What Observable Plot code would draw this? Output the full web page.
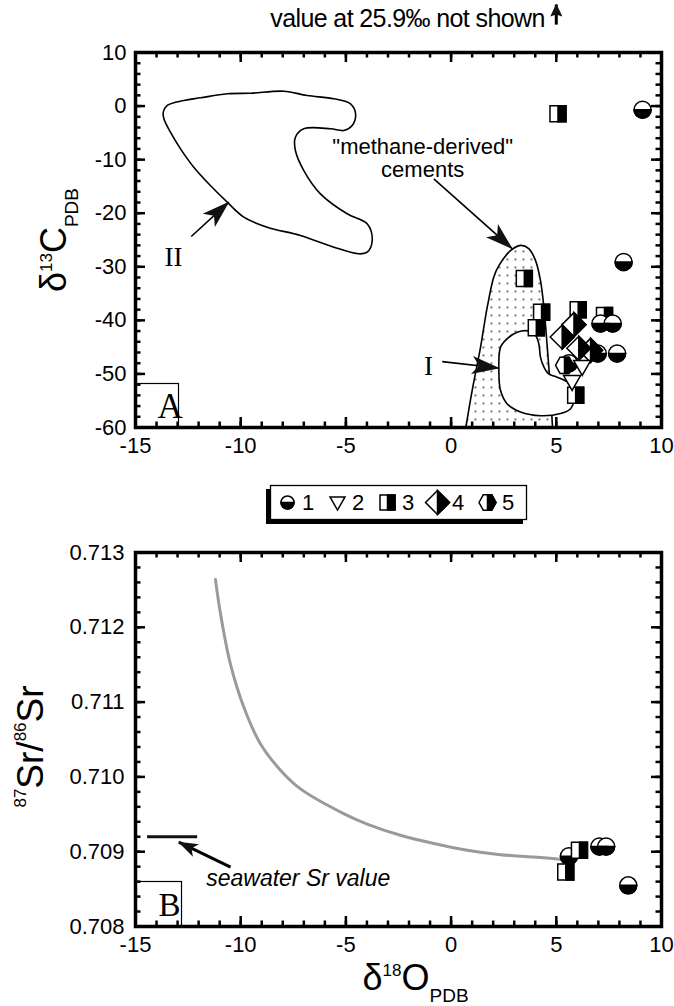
<!DOCTYPE html>
<html>
<head>
<meta charset="utf-8">
<script src="https://cdn.jsdelivr.net/npm/d3@7"></script>
<script src="https://cdn.jsdelivr.net/npm/@observablehq/plot@0.6"></script>
<style>
  html, body { margin: 0; padding: 0; background: #fff; }
  #wrap { width: 674px; height: 1006px; overflow: hidden; background: #fff; }
  #wrap svg { display: block; }
</style>
</head>
<body>
<svg width="0" height="0" style="position:absolute">
  <defs>
    <pattern id="dots" width="8" height="8" patternUnits="userSpaceOnUse">
      <rect x="2" y="2" width="1.8" height="1.8" fill="#555"/>
    </pattern>
    <marker id="ahBig" viewBox="0 0 28 20" refX="27" refY="10" markerUnits="userSpaceOnUse" markerWidth="28" markerHeight="20" orient="auto">
      <path d="M0,1L28,10L0,19L7,10Z" fill="#111"/>
    </marker>
    <marker id="ahMed" viewBox="0 0 20 14" refX="19" refY="7" markerUnits="userSpaceOnUse" markerWidth="20" markerHeight="14" orient="auto">
      <path d="M0,0L20,7L0,14L5,7Z" fill="#111"/>
    </marker>
    <marker id="ahSmall" viewBox="0 0 13 12" refX="12" refY="6" markerUnits="userSpaceOnUse" markerWidth="13" markerHeight="12" orient="auto">
      <path d="M0,0L13,6L0,12L2,6Z" fill="#111"/>
    </marker>
  </defs>
</svg>
<div id="wrap"></div>
<script>
// ---------- tick values ----------
const xMajor = [-15, -10, -5, 0, 5, 10];
const xMinor = d3.range(-15, 10.001, 1);
const yMajorA = [-60, -50, -40, -30, -20, -10, 0, 10];
const yMinorA = d3.range(-60, 10.001, 2);
const yMajorB = [0.708, 0.709, 0.710, 0.711, 0.712, 0.713];
const yMinorB = d3.range(0, 26).map(i => 0.708 + i * 0.0002);

// ---------- panel A data (d18O, d13C) ----------
const a1 = [[9.1, -0.7], [8.2, -29.1], [7.1, -40.6], [7.68, -40.6], [6.97, -46.2], [7.89, -46.2], [5.6, -48.0]];
const a2 = [[6.23, -48.7], [5.75, -51.5]];
const a3 = [[5.08, -1.45], [3.48, -32.2], [4.30, -38.5], [4.05, -41.4], [6.04, -38.0], [7.29, -39.1], [5.92, -54.0]];
const a4 = [[5.28, -43.1], [5.84, -40.8], [6.07, -45.2], [6.63, -45.6]];
const a5 = [[5.39, -48.4]];

// field outlines
const regionII = [[-13.68,-1.14],[-13.49,0.11],[-12.70,1.04],[-11.91,1.54],[-10.64,2.29],[-9.53,2.40],[-7.95,2.78],[-6.84,1.97],[-5.57,1.36],[-4.78,0.42],[-4.54,-1.44],[-4.70,-3.63],[-5.10,-4.56],[-5.73,-4.24],[-7.0,-4.24],[-7.40,-5.81],[-7.40,-8.29],[-7.0,-12.03],[-6.21,-16.38],[-4.94,-20.11],[-3.99,-21.98],[-3.75,-25.09],[-3.99,-27.28],[-4.39,-27.58],[-5.57,-26.34],[-7.16,-24.16],[-8.74,-22.61],[-9.85,-20.74],[-10.64,-17.94],[-11.44,-14.83],[-12.23,-11.41],[-12.86,-7.98],[-13.34,-4.88],[-13.65,-2.38]];
const methaneField = [[0.70,-60],[1.0,-53.1],[1.40,-45.0],[1.72,-37.5],[2.03,-31.9],[2.27,-29.8],[2.82,-27.0],[3.30,-26.0],[3.69,-26.6],[4.01,-28.8],[4.25,-32.6],[4.44,-38.8],[4.57,-45.0],[4.69,-51.2],[4.82,-60]];
const regionI = [[2.35,-45.0],[2.27,-49.4],[2.35,-53.1],[2.67,-55.6],[3.30,-57.1],[4.25,-57.8],[5.20,-57.4],[5.68,-56.5],[5.83,-55.0],[5.76,-53.1],[5.52,-51.5],[5.04,-50.6],[4.64,-50.0],[4.41,-48.7],[4.25,-46.9],[4.17,-44.4],[4.01,-42.8],[3.69,-42.0],[3.14,-42.2],[2.67,-43.4]];

// annotations panel A
const arrowsA = [
  {x1: -12.35, y1: -24.35, x2: -10.57, y2: -17.94},
  {x1: -0.82, y1: -13.6, x2: 2.90, y2: -26.6},
  {x1: -0.42, y1: -47.7, x2: 2.27, y2: -48.9}
];
const upArrow = [{x: 5, y1: 15.2, y2: 18.96}];
const labelsA = [
  {text: "II", x: -13.19, y: -28.17},
  {text: "I", x: -1.07, y: -48.5}
];
const methaneLabel = [{text: "\"methane-derived\"\ncements", x: -1.35, y: -13.28}];
const titleText = ["value at 25.9‰ not shown"];

// ---------- panel B data (d18O, 87Sr/86Sr) ----------
const b1 = [[5.6, 0.70894], [7.05, 0.70907], [7.37, 0.70907], [8.42, 0.70855]];
const b3 = [[6.1, 0.70902], [5.45, 0.70873]];
const mixingCurve = [[-11.2,0.71264],[-10.96,0.71218],[-10.49,0.71151],[-9.85,0.71093],[-9.06,0.71044],[-8.11,0.71009],[-7.16,0.70984],[-5.11,0.70951],[-3.99,0.70937],[-2.41,0.70922],[-0.82,0.70911],[0.77,0.70902],[2.35,0.70896],[3.93,0.70893],[5.2,0.70890]];
const seawater = [{x1: -14.45, x2: -12.07, y: 0.7092}];
const seawaterArrow = [{x1: -10.48, y1: 0.708793, x2: -12.94, y2: 0.709127}];
const seawaterLabel = [{text: "seawater Sr value", x: -11.64, y: 0.708535}];

// ---------- legend ----------
const legendLabels = ["1", "2", "3", "4", "5"];

// ---------- symbols ----------
const R = s => Math.sqrt(s / Math.PI);
const sym = {
  circleFull: {draw(c, s) { const r = R(s); c.moveTo(r, 0); c.arc(0, 0, r, 0, 2 * Math.PI); c.closePath(); }},
  circleHalf: {draw(c, s) { const r = R(s); c.moveTo(r, 0); c.arc(0, 0, r, 0, Math.PI); c.closePath(); }},
  tri: {draw(c, s) { const r = R(s); c.moveTo(-r, -0.75 * r); c.lineTo(r, -0.75 * r); c.lineTo(0, r); c.closePath(); }},
  squareFull: {draw(c, s) { const r = R(s); c.moveTo(-r, -r); c.lineTo(r, -r); c.lineTo(r, r); c.lineTo(-r, r); c.closePath(); }},
  squareHalf: {draw(c, s) { const r = R(s); c.moveTo(0, -r); c.lineTo(r, -r); c.lineTo(r, r); c.lineTo(0, r); c.closePath(); }},
  diamondFull: {draw(c, s) { const r = R(s); c.moveTo(-r, 0); c.lineTo(0, -r); c.lineTo(r, 0); c.lineTo(0, r); c.closePath(); }},
  diamondHalf: {draw(c, s) { const r = R(s); c.moveTo(0, -r); c.lineTo(r, 0); c.lineTo(0, r); c.closePath(); }},
  hexFull: {draw(c, s) { const r = R(s), h = r * 0.9; c.moveTo(-r, 0); c.lineTo(-r / 2, -h); c.lineTo(r / 2, -h); c.lineTo(r, 0); c.lineTo(r / 2, h); c.lineTo(-r / 2, h); c.closePath(); }},
  hexHalf: {draw(c, s) { const r = R(s), h = r * 0.9; c.moveTo(0, -h); c.lineTo(r / 2, -h); c.lineTo(r, 0); c.lineTo(r / 2, h); c.lineTo(0, h); c.closePath(); }}
};

const SW = 1.5;
function halfMarks(data, full, half, r) {
  const base = {x: d => d[0], y: d => d[1], r, stroke: "black", strokeWidth: SW};
  const ms = [Plot.dot(data, {...base, symbol: full, fill: "white"})];
  if (half) ms.push(Plot.dot(data, {...base, symbol: half, fill: "black"}));
  return ms;
}
function legendMarks(label, full, half, r) {
  const base = {x: d => d, frameAnchor: "middle", r, stroke: "black", strokeWidth: SW};
  const ms = [Plot.dot([label], {...base, symbol: full, fill: "white"})];
  if (half) ms.push(Plot.dot([label], {...base, symbol: half, fill: "black"}));
  return ms;
}

const FONT = "'Liberation Sans', Arial, Helvetica, sans-serif";
const SERIF = "'Liberation Serif', 'Times New Roman', serif";

function frameTicks(xMaj, xMin, yMaj, yMin, innerW, innerH) {
  const maj = 10, min = 5.5, sw = 2.5;
  return [
    Plot.tickX(xMin, {x: d => d, insetTop: innerH - min, strokeWidth: sw}),
    Plot.tickX(xMin, {x: d => d, insetBottom: innerH - min, strokeWidth: sw}),
    Plot.tickX(xMaj, {x: d => d, insetTop: innerH - maj, strokeWidth: sw}),
    Plot.tickX(xMaj, {x: d => d, insetBottom: innerH - maj, strokeWidth: sw}),
    Plot.tickY(yMin, {y: d => d, insetRight: innerW - min, strokeWidth: sw}),
    Plot.tickY(yMin, {y: d => d, insetLeft: innerW - min, strokeWidth: sw}),
    Plot.tickY(yMaj, {y: d => d, insetRight: innerW - maj, strokeWidth: sw}),
    Plot.tickY(yMaj, {y: d => d, insetLeft: innerW - maj, strokeWidth: sw}),
    Plot.frame({stroke: "black", strokeWidth: 3.5})
  ];
}

function arrowize(svg) {
  const spec = [["#000001", "ahBig"], ["#000002", "ahMed"], ["#000003", "ahSmall"]];
  for (const [c, id] of spec) {
    svg.querySelectorAll(`g[stroke="${c}"] path, g[stroke="${c}"] line`).forEach(p => p.setAttribute("marker-end", `url(#${id})`));
  }
}
function findText(svg, key) {
  return [...svg.querySelectorAll("text")].find(n => n.textContent === key);
}
function rich(svg, key, parts) {
  const t = findText(svg, key);
  if (!t) return;
  const sel = d3.select(t);
  sel.text(null);
  let cur = 0;
  parts.forEach(p => {
    const off = p.off || 0;
    sel.append("tspan").attr("font-size", p.size).attr("dy", off - cur).text(p.t);
    cur = off;
  });
}
function stretch(svg, key, len) {
  const t = findText(svg, key);
  if (t) { t.setAttribute("textLength", len); t.setAttribute("lengthAdjust", "spacing"); }
}

const wrap = document.getElementById("wrap");
const W = 674;

// ---------- Panel A ----------
const A = {h: 470, ml: 135, mr: 13, mt: 52, mb: 43};
const innerWA = W - A.ml - A.mr, innerHA = A.h - A.mt - A.mb;
const fmtX = d => String(d);
const plotA = Plot.plot({
  width: W, height: A.h, marginLeft: A.ml, marginRight: A.mr, marginTop: A.mt, marginBottom: A.mb,
  x: {domain: [-15, 10], axis: null},
  y: {domain: [-60, 10], axis: null},
  style: {fontFamily: FONT, color: "black", background: "white", overflow: "visible"},
  marks: [
    Plot.line(methaneField, {x: d => d[0], y: d => d[1], curve: "catmull-rom", fill: "url(#dots)", stroke: "black", strokeWidth: 1.6}),
    Plot.line(regionI, {x: d => d[0], y: d => d[1], curve: "catmull-rom-closed", fill: "white", stroke: "black", strokeWidth: 1.6}),
    Plot.line(regionII, {x: d => d[0], y: d => d[1], curve: "catmull-rom-closed", fill: "none", stroke: "black", strokeWidth: 1.6}),
    Plot.link(arrowsA, {x1: "x1", y1: "y1", x2: "x2", y2: "y2", stroke: "#000001", strokeWidth: 1.6}),
    Plot.link(upArrow, {x1: "x", x2: "x", y1: "y1", y2: "y2", stroke: "#000003", strokeWidth: 3}),
    Plot.text(labelsA, {x: "x", y: "y", text: "text", fontFamily: SERIF, fontSize: 27, lineAnchor: "middle"}),
    Plot.text(methaneLabel, {x: "x", y: "y", text: "text", fontSize: 22, lineAnchor: "bottom", lineHeight: 1.05}),
    Plot.text(titleText, {x: 5, text: d => d, frameAnchor: "top", dx: -11, dy: -26, textAnchor: "end", lineAnchor: "bottom", fontSize: 25}),
    ...halfMarks(a3, sym.squareFull, sym.squareHalf, 8),
    ...halfMarks(a1, sym.circleFull, sym.circleHalf, 8.5),
    ...halfMarks(a5, sym.hexFull, sym.hexHalf, 9),
    ...halfMarks(a4, sym.diamondFull, sym.diamondHalf, 12),
    ...halfMarks(a2, sym.tri, null, 8.5),
    Plot.frame({insetTop: innerHA - 44, insetRight: innerWA - 43, stroke: "black", strokeWidth: 1.2}),
    Plot.text(["A"], {text: d => d, frameAnchor: "bottom-left", dx: 22, dy: -10, lineAnchor: "bottom", fontFamily: SERIF, fontSize: 35}),
    ...frameTicks(xMajor, xMinor, yMajorA, yMinorA, innerWA, innerHA),
    Plot.text(xMajor, {x: d => d, text: fmtX, frameAnchor: "bottom", dy: 18, lineAnchor: "middle", fontSize: 22}),
    Plot.text(yMajorA, {y: d => d, text: fmtX, frameAnchor: "left", dx: -9, textAnchor: "end", lineAnchor: "middle", fontSize: 22}),
    Plot.text(["δ13CPDB"], {text: d => d, frameAnchor: "left", dx: -70, rotate: -90, textAnchor: "middle", lineAnchor: "bottom", fontSize: 36})
  ]
});
arrowize(plotA);
stretch(plotA, titleText[0], 275);
rich(plotA, "δ13CPDB", [{t: "δ", size: 36}, {t: "13", size: 17, off: -14}, {t: "C", size: 36, off: 0}, {t: "PDB", size: 19, off: 12}]);
wrap.appendChild(plotA);

// ---------- Legend ----------
const legendPlot = Plot.plot({
  width: W, height: 60, marginLeft: 270, marginRight: 148, marginTop: 15, marginBottom: 11,
  x: {type: "point", domain: legendLabels, range: [285, 488], padding: 0, axis: null},
  style: {fontFamily: FONT, color: "black", background: "white", overflow: "visible"},
  marks: [
    Plot.frame({fill: "black", stroke: "black", dx: -4, dy: 4}),
    Plot.frame({fill: "white", stroke: "black", strokeWidth: 1.3}),
    ...legendMarks("1", sym.circleFull, sym.circleHalf, 6.5),
    ...legendMarks("2", sym.tri, null, 7.5),
    ...legendMarks("3", sym.squareFull, sym.squareHalf, 7.5),
    ...legendMarks("4", sym.diamondFull, sym.diamondHalf, 12),
    ...legendMarks("5", sym.hexFull, sym.hexHalf, 8.5),
    Plot.text(legendLabels, {x: d => d, text: d => d, frameAnchor: "middle", dx: 14.5, textAnchor: "start", lineAnchor: "middle", fontSize: 22})
  ]
});
wrap.appendChild(legendPlot);

// ---------- Panel B ----------
const B = {h: 476, ml: 135, mr: 13, mt: 22, mb: 80};
const innerWB = W - B.ml - B.mr, innerHB = B.h - B.mt - B.mb;
const fmtB = d3.format(".3f");
const plotB = Plot.plot({
  width: W, height: B.h, marginLeft: B.ml, marginRight: B.mr, marginTop: B.mt, marginBottom: B.mb,
  x: {domain: [-15, 10], axis: null},
  y: {domain: [0.708, 0.713], axis: null},
  style: {fontFamily: FONT, color: "black", background: "white", overflow: "visible"},
  marks: [
    Plot.line(mixingCurve, {x: d => d[0], y: d => d[1], curve: "catmull-rom", stroke: "#9a9a9a", strokeWidth: 3}),
    Plot.link(seawater, {x1: "x1", x2: "x2", y1: "y", y2: "y", stroke: "#111", strokeWidth: 3}),
    Plot.link(seawaterArrow, {x1: "x1", y1: "y1", x2: "x2", y2: "y2", stroke: "#000002", strokeWidth: 3}),
    Plot.text(seawaterLabel, {x: "x", y: "y", text: "text", textAnchor: "start", lineAnchor: "bottom", fontStyle: "italic", fontSize: 23}),
    ...halfMarks(b1, sym.circleFull, sym.circleHalf, 8.5),
    ...halfMarks(b3, sym.squareFull, sym.squareHalf, 8),
    Plot.frame({insetTop: innerHB - 45, insetRight: innerWB - 46, stroke: "black", strokeWidth: 1.2}),
    Plot.text(["B"], {text: d => d, frameAnchor: "bottom-left", dx: 23, dy: -11, lineAnchor: "bottom", fontFamily: SERIF, fontSize: 33}),
    ...frameTicks(xMajor, xMinor, yMajorB, yMinorB, innerWB, innerHB),
    Plot.text(xMajor, {x: d => d, text: fmtX, frameAnchor: "bottom", dy: 18, lineAnchor: "middle", fontSize: 22}),
    Plot.text(yMajorB, {y: d => d, text: fmtB, frameAnchor: "left", dx: -11, textAnchor: "end", lineAnchor: "middle", fontSize: 22}),
    Plot.text(["87Sr/86Sr"], {text: d => d, frameAnchor: "left", dx: -93, dy: 7, rotate: -90, textAnchor: "middle", lineAnchor: "bottom", fontSize: 36}),
    Plot.text(["δ18OPDB"], {text: d => d, frameAnchor: "bottom", dx: -36, dy: 63, textAnchor: "start", lineAnchor: "bottom", fontSize: 36})
  ]
});
arrowize(plotB);
rich(plotB, "87Sr/86Sr", [{t: "87", size: 17, off: -17}, {t: "Sr/", size: 37, off: 0}, {t: "86", size: 17, off: -17}, {t: "Sr", size: 37, off: 0}]);
rich(plotB, "δ18OPDB", [{t: "δ", size: 36}, {t: "18", size: 17, off: -14}, {t: "O", size: 36, off: 0}, {t: "PDB", size: 19, off: 12}]);
wrap.appendChild(plotB);
</script>
</body>
</html>
